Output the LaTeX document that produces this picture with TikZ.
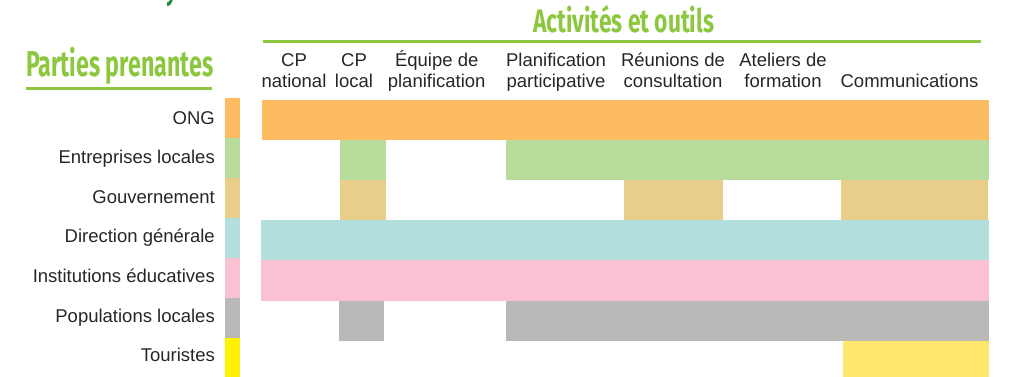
\documentclass[tikz,border=0pt]{standalone}
\usepackage{fontspec}
\setmainfont{Liberation Sans}
\newfontfamily\titlefont[FakeStretch=0.6]{Fira Sans}
\newfontfamily\titlefontA[FakeStretch=0.70]{Fira Sans}
\newfontfamily\titlefontB[FakeStretch=0.645]{Fira Sans}
\definecolor{cong}{HTML}{FDBB62}
\definecolor{cent}{HTML}{B7DC9C}
\definecolor{cgov}{HTML}{E8CE88}
\definecolor{cdir}{HTML}{B2DFDB}
\definecolor{cins}{HTML}{F9C1D1}
\definecolor{cpop}{HTML}{BAB9B8}
\definecolor{ctourstrip}{HTML}{FFF200}
\definecolor{ctour}{HTML}{FFE76B}
\definecolor{tgreen}{HTML}{8DC63F}
\definecolor{dgreen}{HTML}{1E8B3C}
\begin{document}
\begin{tikzpicture}[x=1pt,y=-1pt,
  lbl/.style={inner sep=0pt, font=\fontsize{18.5}{21}\selectfont, text=black!85},
  hdr/.style={lbl, anchor=base},
  rowlbl/.style={lbl, anchor=base east},
  ttl/.style={inner sep=0pt, anchor=base west, text=tgreen},
  ttlline/.style={draw=tgreen, line width=2.6pt}]
\useasboundingbox (0,0) rectangle (1013,377);
\clip (0,0) rectangle (1013,377);
% partial title above
\node[inner sep=0pt, anchor=base, text=dgreen, font=\titlefont\bfseries\fontsize{32}{32}\selectfont] (ytop) at (171,0) {y};
% titles
\node[ttl, font=\titlefontA\bfseries\fontsize{32.5}{33}\selectfont] (tact) at (533,32.5) {Activités et outils};
\node[ttl, font=\titlefontB\bfseries\fontsize{36}{36}\selectfont] (tpart) at (26,76.7) {Parties prenantes};
\draw[ttlline] (263,41.7) -- (981,41.7);
\draw[ttlline] (26,88.3) -- (212,88.3);
% column headers
\node[hdr] (h1) at (294,87.3) {\begin{tabular}[b]{@{}c@{}}CP\\national\end{tabular}};
\node[hdr] (h2) at (354,87.3) {\begin{tabular}[b]{@{}c@{}}CP\\local\end{tabular}};
\node[hdr] (h3) at (436.7,87.3) {\begin{tabular}[b]{@{}c@{}}Équipe de\\planification\end{tabular}};
\node[hdr] (h4) at (556,87.3) {\begin{tabular}[b]{@{}c@{}}Planification\\participative\end{tabular}};
\node[hdr] (h5) at (673,87.3) {\begin{tabular}[b]{@{}c@{}}Réunions de\\consultation\end{tabular}};
\node[hdr] (h6) at (783,87.3) {\begin{tabular}[b]{@{}c@{}}Ateliers de\\formation\end{tabular}};
\node[hdr] (h7) at (909.5,87.3) {Communications};
% row labels
\node[rowlbl] (r1) at (215,124.3) {ONG};
\node[rowlbl] (r2) at (215,163.9) {Entreprises locales};
\node[rowlbl] (r3) at (215,203.4) {Gouvernement};
\node[rowlbl] (r4) at (215,243.0) {Direction générale};
\node[rowlbl] (r5) at (215,282.6) {Institutions éducatives};
\node[rowlbl] (r6) at (215,322.1) {Populations locales};
\node[rowlbl] (r7) at (215,361.7) {Touristes};
% colour strips
\fill[cong] (225,98.3) rectangle (240,138);
\fill[cent] (225,138) rectangle (240,178);
\fill[cgov] (225,178) rectangle (240,218);
\fill[cdir] (225,218) rectangle (240,258);
\fill[cins] (225,258) rectangle (240,298);
\fill[cpop] (225,298) rectangle (240,338);
\fill[ctourstrip] (225,338) rectangle (240,378);
% bars
\fill[cong] (261.7,100) rectangle (989,140.5);
\fill[cent] (340,140.5) rectangle (385.7,180.5);
\fill[cent] (505.7,140.5) rectangle (989,180.5);
\fill[cgov] (340,180.5) rectangle (386,220);
\fill[cgov] (624,180.5) rectangle (722.7,220);
\fill[cgov] (841,180.5) rectangle (988,220);
\fill[cdir] (260.7,220) rectangle (989,260);
\fill[cins] (260.7,260) rectangle (989,300.5);
\fill[cpop] (338.7,300.5) rectangle (383.7,341);
\fill[cpop] (505.7,300.5) rectangle (989,341);
\fill[ctour] (843,341) rectangle (989,378);
\end{tikzpicture}
\end{document}
